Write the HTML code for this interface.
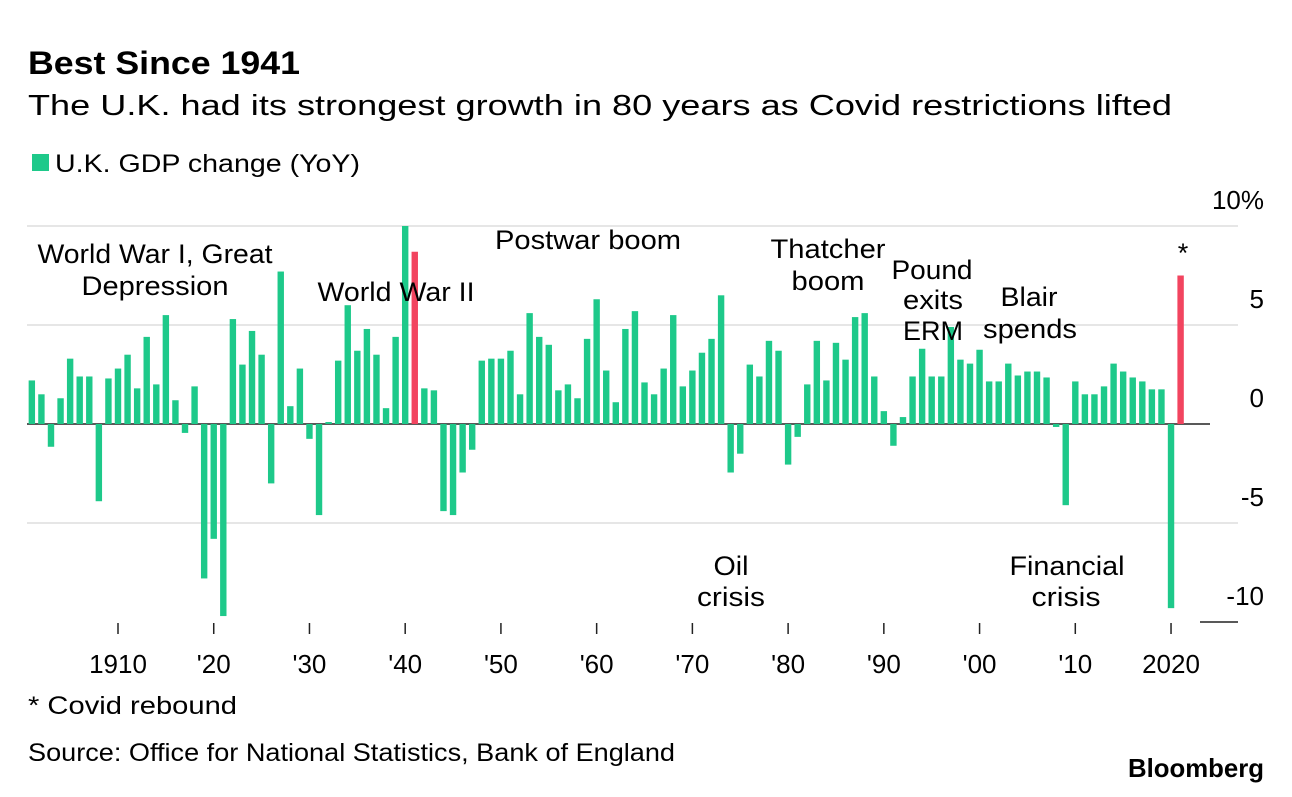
<!DOCTYPE html>
<html><head><meta charset="utf-8"><style>
body{margin:0;background:#fff;}
svg text{font-family:"Liberation Sans",sans-serif;fill:#000;}
</style></head><body>
<svg width="1292" height="792" viewBox="0 0 1292 792" xmlns="http://www.w3.org/2000/svg">
<text x="28" y="74" font-size="32" font-weight="bold" textLength="272" lengthAdjust="spacingAndGlyphs">Best Since 1941</text>
<text x="28" y="115" font-size="29" textLength="1144" lengthAdjust="spacingAndGlyphs">The U.K. had its strongest growth in 80 years as Covid restrictions lifted</text>
<rect x="32" y="154" width="17" height="17" fill="#1ec98a"/>
<text x="55" y="172" font-size="25" textLength="305" lengthAdjust="spacingAndGlyphs">U.K. GDP change (YoY)</text>
<g id="grid"></g>
<g id="bars"></g>
<g id="xaxis"></g>
<g id="ann" font-size="27" text-anchor="middle" lengthAdjust="spacingAndGlyphs">
<text x="155" y="263" textLength="235" lengthAdjust="spacingAndGlyphs">World War I, Great</text>
<text x="155" y="295" textLength="147" lengthAdjust="spacingAndGlyphs">Depression</text>
<text x="396" y="301" textLength="157" lengthAdjust="spacingAndGlyphs">World War II</text>
<text x="588" y="249" textLength="186" lengthAdjust="spacingAndGlyphs">Postwar boom</text>
<text x="828" y="258" textLength="115" lengthAdjust="spacingAndGlyphs">Thatcher</text>
<text x="828" y="290" textLength="73" lengthAdjust="spacingAndGlyphs">boom</text>
<text x="932" y="279" textLength="81" lengthAdjust="spacingAndGlyphs">Pound</text>
<text x="933" y="309" textLength="60" lengthAdjust="spacingAndGlyphs">exits</text>
<text x="933" y="340" textLength="60" lengthAdjust="spacingAndGlyphs">ERM</text>
<text x="1029" y="306" textLength="57" lengthAdjust="spacingAndGlyphs">Blair</text>
<text x="1030" y="338" textLength="94" lengthAdjust="spacingAndGlyphs">spends</text>
<text x="731" y="575" textLength="35" lengthAdjust="spacingAndGlyphs">Oil</text>
<text x="731" y="606" textLength="68" lengthAdjust="spacingAndGlyphs">crisis</text>
<text x="1067" y="575" textLength="115" lengthAdjust="spacingAndGlyphs">Financial</text>
<text x="1066" y="606" textLength="69" lengthAdjust="spacingAndGlyphs">crisis</text>
<text x="1183" y="262">*</text>
</g>
<text x="28" y="714" font-size="25" textLength="209" lengthAdjust="spacingAndGlyphs">* Covid rebound</text>
<text x="28" y="761" font-size="25" textLength="647" lengthAdjust="spacingAndGlyphs">Source: Office for National Statistics, Bank of England</text>
<text x="1128" y="777" font-size="26" font-weight="bold" textLength="136" lengthAdjust="spacingAndGlyphs">Bloomberg</text>
</svg>
<script>
const years = [];
for (let y = 1901; y <= 2021; y++) years.push(y);
const gdpChange = [
2.2,1.5,-1.15,1.3,3.3,2.4,2.4,-3.9,2.3,2.8,3.5,1.8,4.4,2.0,5.5,1.2,-0.45,1.9,-7.8,-5.8,
-9.7,5.3,3.0,4.7,3.5,-3.0,7.7,0.9,2.8,-0.75,-4.6,0.1,3.2,6.0,3.7,4.8,3.5,0.8,4.4,10.0,
8.7,1.8,1.7,-4.4,-4.6,-2.45,-1.3,3.2,3.3,3.3,3.7,1.5,5.6,4.4,4.0,1.7,2.0,1.3,4.3,6.3,
2.7,1.1,4.8,5.7,2.1,1.5,2.8,5.5,1.9,2.7,3.6,4.3,6.5,-2.45,-1.5,3.0,2.4,4.2,3.7,-2.05,
-0.65,2.0,4.2,2.2,4.1,3.25,5.4,5.6,2.4,0.65,-1.1,0.35,2.4,3.8,2.4,2.4,4.9,3.25,3.05,3.75,
2.15,2.15,3.05,2.45,2.65,2.65,2.35,-0.15,-4.1,2.15,1.5,1.5,1.9,3.05,2.65,2.35,2.15,1.75,1.75,-9.3,
7.5];
const highlightYears = [1941, 2021];
const yTicks = [10, 5, 0, -5, -10];
const yTickLabels = ["10%", "5", "0", "-5", "-10"];
const xTicks = [1910,1920,1930,1940,1950,1960,1970,1980,1990,2000,2010,2020];
const xTickLabels = ["1910","'20","'30","'40","'50","'60","'70","'80","'90","'00","'10","2020"];

const NS = "http://www.w3.org/2000/svg";
const yScale = v => 424 - v * 19.8;
const xScale = yr => 118 + (yr - 1910) * 9.573;
function mk(tag, attrs, parent) {
  const e = document.createElementNS(NS, tag);
  for (const k in attrs) e.setAttribute(k, attrs[k]);
  parent.appendChild(e);
  return e;
}
const grid = document.getElementById('grid');
yTicks.forEach((t, i) => {
  const y = yScale(t);
  let ln;
  if (t === 0) ln = mk('line', {x1: 27, x2: 1210, y1: y, y2: y, stroke: '#222', 'stroke-width': 1.5}, grid);
  else if (t === -10) ln = mk('line', {x1: 1200, x2: 1238, y1: y, y2: y, stroke: '#222', 'stroke-width': 1.5}, grid);
  else ln = mk('line', {x1: 27, x2: 1238, y1: y, y2: y, stroke: '#ddd', 'stroke-width': 1.5}, grid);
  
  
  const tx = mk('text', {x: 1264, y: y - 17, 'font-size': 26, 'text-anchor': 'end'}, grid);
  tx.textContent = yTickLabels[i];
  
  
});
const bars = document.getElementById('bars');
years.forEach((yr, i) => {
  const v = gdpChange[i];
  const x = xScale(yr) - 3.2;
  const y0 = yScale(0), y1 = yScale(v);
  const r = mk('rect', {x: x, y: Math.min(y0, y1), width: 6.4, height: Math.abs(y1 - y0),
    fill: highlightYears.includes(yr) ? '#f2445f' : '#1ec98a'}, bars);
  
  
});
const xa = document.getElementById('xaxis');
xTicks.forEach((yr, i) => {
  const x = xScale(yr);
  const tk = mk('line', {x1: x, x2: x, y1: 623, y2: 634, stroke: '#222', 'stroke-width': 1.5}, xa);
  
  
  const tx = mk('text', {x: x, y: 673, 'font-size': 26, 'text-anchor': 'middle'}, xa);
  tx.textContent = xTickLabels[i];
  
  
});
</script>
</body></html>
